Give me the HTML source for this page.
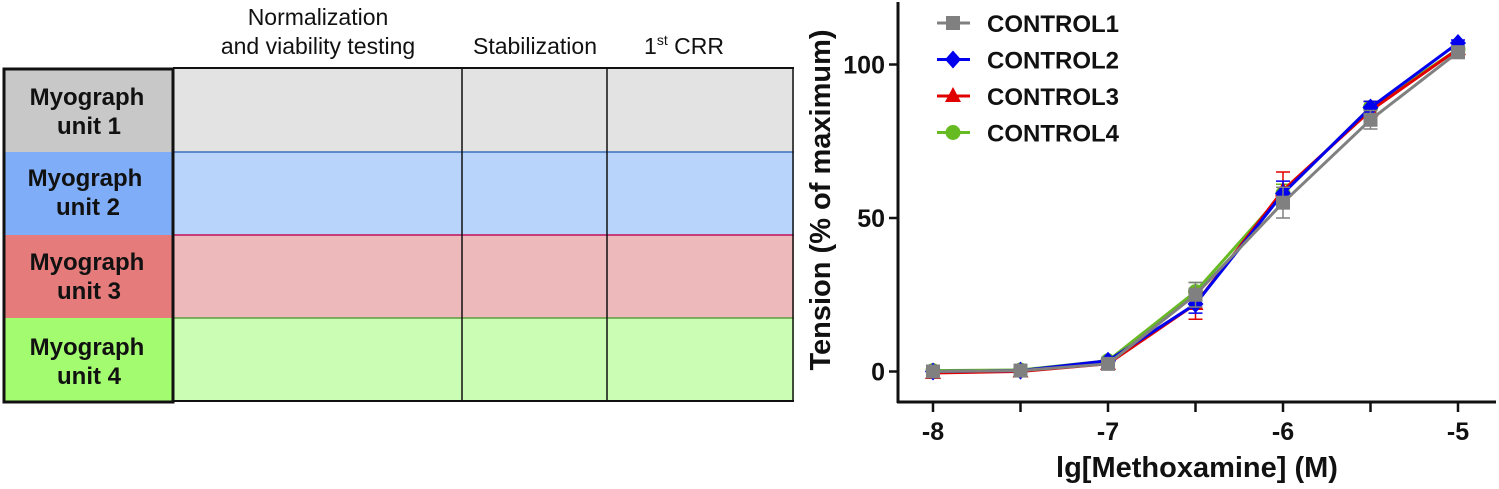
<!DOCTYPE html>
<html><head><meta charset="utf-8"><style>
body{margin:0;background:#fff;width:1499px;height:484px;overflow:hidden;font-family:"Liberation Sans",Arial,sans-serif}
</style></head><body>
<svg width="1499" height="484" xmlns="http://www.w3.org/2000/svg">
<g font-family="Liberation Sans, Arial, sans-serif">
  <text x="318" y="25" text-anchor="middle" font-size="23" fill="#111">Normalization</text>
  <text x="318" y="54" text-anchor="middle" font-size="23" fill="#111">and viability testing</text>
  <text x="535" y="54" text-anchor="middle" font-size="23" fill="#111">Stabilization</text>
  <text x="684" y="54" text-anchor="middle" font-size="23" fill="#111">1<tspan font-size="14" dy="-9">st</tspan><tspan dy="9"> CRR</tspan></text>
  <rect x="173" y="69" width="621" height="83" fill="#e3e3e3"/>
  <rect x="173" y="152" width="621" height="83" fill="#b8d4fa"/>
  <rect x="173" y="235" width="621" height="83" fill="#eeb9ba"/>
  <rect x="173" y="318" width="621" height="83" fill="#cbfdb4"/>
  <line x1="173" y1="152" x2="794" y2="152" stroke="#3d6fc0" stroke-width="1.5"/>
  <line x1="173" y1="235" x2="794" y2="235" stroke="#c0105a" stroke-width="1.5"/>
  <line x1="173" y1="318" x2="794" y2="318" stroke="#5aa040" stroke-width="1.5"/>
  <rect x="4" y="69" width="169" height="83" fill="#c8c8c8"/>
  <rect x="4" y="152" width="169" height="83" fill="#7fadf7"/>
  <rect x="4" y="235" width="169" height="83" fill="#e57b7b"/>
  <rect x="4" y="318" width="169" height="83" fill="#a3fb6f"/>
  <rect x="4" y="69" width="169" height="333" fill="none" stroke="#111" stroke-width="3"/>
  <line x1="173" y1="68" x2="794" y2="68" stroke="#111" stroke-width="2"/>
  <line x1="173" y1="401" x2="794" y2="401" stroke="#111" stroke-width="2"/>
  <line x1="793" y1="68" x2="793" y2="401" stroke="#111" stroke-width="1.5"/>
  <line x1="462" y1="68" x2="462" y2="402" stroke="#111" stroke-width="1.5"/>
  <line x1="607" y1="68" x2="607" y2="402" stroke="#111" stroke-width="1.5"/>
  <g font-size="24" font-weight="bold" text-anchor="middle" fill="#111">
    <text x="87" y="105">Myograph<tspan x="89" dy="29">unit 1</tspan></text>
    <text x="85" y="186">Myograph<tspan x="88" dy="29">unit 2</tspan></text>
    <text x="87" y="270">Myograph<tspan x="89" dy="29">unit 3</tspan></text>
    <text x="87" y="355">Myograph<tspan x="89" dy="29">unit 4</tspan></text>
  </g>
</g>
<g id="chart"></g>
</svg>
<script>
const xValues = [-8, -7.5, -7, -6.5, -6, -5.5, -5];
const seriesNames = ["CONTROL1", "CONTROL2", "CONTROL3", "CONTROL4"];
const control1 = [0, 0.3, 2.5, 25, 55, 82, 104];
const control2 = [0, 0.3, 3.5, 22, 58, 86, 107];
const control3 = [-0.5, 0, 2.5, 22, 59, 85, 105];
const control4 = [0.3, 0.5, 3.5, 26, 58, 86, 105];
const err1 = [1, 1, 1, 4, 5, 3, 2];
const err2 = [1, 1, 1, 3, 4, 2, 1];
const err3 = [1, 1, 1, 5, 6, 3, 2];
const err4 = [1, 1, 1, 3, 3, 2, 1];
const xTicks = [-8, -7, -6, -5];
const yTicks = [0, 50, 100];

const NS = "http://www.w3.org/2000/svg";
const g = document.getElementById("chart");
const X = v => 933 + (v + 8) * 175;
const Y = v => 371.5 - v * 3.07;
function mk(tag, attrs, parent) {
  const e = document.createElementNS(NS, tag);
  for (const k in attrs) e.setAttribute(k, attrs[k]);
  (parent || g).appendChild(e);
  return e;
}
const FF = "Liberation Sans, Arial, sans-serif";
const ya = mk("line", {x1: 898, y1: 2, x2: 898, y2: 403, stroke: "#111", "stroke-width": 3});


const xa = mk("line", {x1: 897, y1: 402, x2: 1496, y2: 402, stroke: "#111", "stroke-width": 3});


yTicks.forEach(t => {
  mk("line", {x1: 889, y1: Y(t), x2: 898, y2: Y(t), stroke: "#111", "stroke-width": 2.5});
  const tx = mk("text", {x: 885, y: Y(t) + 9, "text-anchor": "end", "font-size": 25, "font-weight": "bold", "font-family": FF, fill: "#111"});
  tx.textContent = t;
  
  
});
xValues.forEach(v => mk("line", {x1: X(v), y1: 402, x2: X(v), y2: 412, stroke: "#111", "stroke-width": 2.5}));
xTicks.forEach(t => {
  const tx = mk("text", {x: X(t), y: 440, "text-anchor": "middle", "font-size": 25, "font-weight": "bold", "font-family": FF, fill: "#111"});
  tx.textContent = t;
  
  
});
const xt = mk("text", {x: 1197, y: 477, "text-anchor": "middle", "font-size": 29, "font-weight": "bold", "font-family": FF, fill: "#111"});
xt.textContent = "lg[Methoxamine] (M)";


const yt = mk("text", {x: 0, y: 0, transform: "translate(830,200) rotate(-90)", "text-anchor": "middle", "font-size": 29, "font-weight": "bold", "font-family": FF, fill: "#111"});
yt.textContent = "Tension (% of maximum)";



const data = [control1, control2, control3, control4];
const errs = [err1, err2, err3, err4];
const colors = ["#808080", "#0000ee", "#e00000", "#66bb22"];
const shapes = ["square", "diamond", "triangle", "circle"];
function marker(shape, x, y, c, parent) {
  if (shape === "square") return mk("rect", {x: x - 7, y: y - 7, width: 14, height: 14, fill: c}, parent);
  if (shape === "diamond") return mk("polygon", {points: `${x},${y-9} ${x+8},${y} ${x},${y+9} ${x-8},${y}`, fill: c}, parent);
  if (shape === "triangle") return mk("polygon", {points: `${x},${y-9} ${x+8},${y+6} ${x-8},${y+6}`, fill: c}, parent);
  return mk("circle", {cx: x, cy: y, r: 7.5, fill: c}, parent);
}
[3, 2, 1, 0].forEach(si => {
  const sg = mk("g", {});
  
  
  const vals = data[si];
  vals.forEach((v, i) => {
    const x = X(xValues[i]), e = errs[si][i];
    mk("path", {d: `M${x},${Y(v+e)}V${Y(v-e)}M${x-7},${Y(v+e)}H${x+7}M${x-7},${Y(v-e)}H${x+7}`, stroke: colors[si], "stroke-width": 1.5, fill: "none"}, sg);
  });
  const pl = mk("polyline", {points: vals.map((v, i) => X(xValues[i]) + "," + Y(v)).join(" "), fill: "none", stroke: colors[si], "stroke-width": 3}, sg);
  
  
  vals.forEach((v, i) => {
    const m = marker(shapes[si], X(xValues[i]), Y(v), colors[si], sg);
    
    
  });
});
seriesNames.forEach((n, i) => {
  const y = 23 + i * 36.5;
  const lg = mk("g", {});
  
  
  mk("line", {x1: 937, y1: y, x2: 970, y2: y, stroke: colors[i], "stroke-width": 3}, lg);
  marker(shapes[i], 953, y, colors[i], lg);
  const t = mk("text", {x: 987, y: y + 9, "font-size": 24, "font-weight": "bold", "font-family": FF, fill: "#111"}, lg);
  t.textContent = n;
});
</script>
</body></html>
